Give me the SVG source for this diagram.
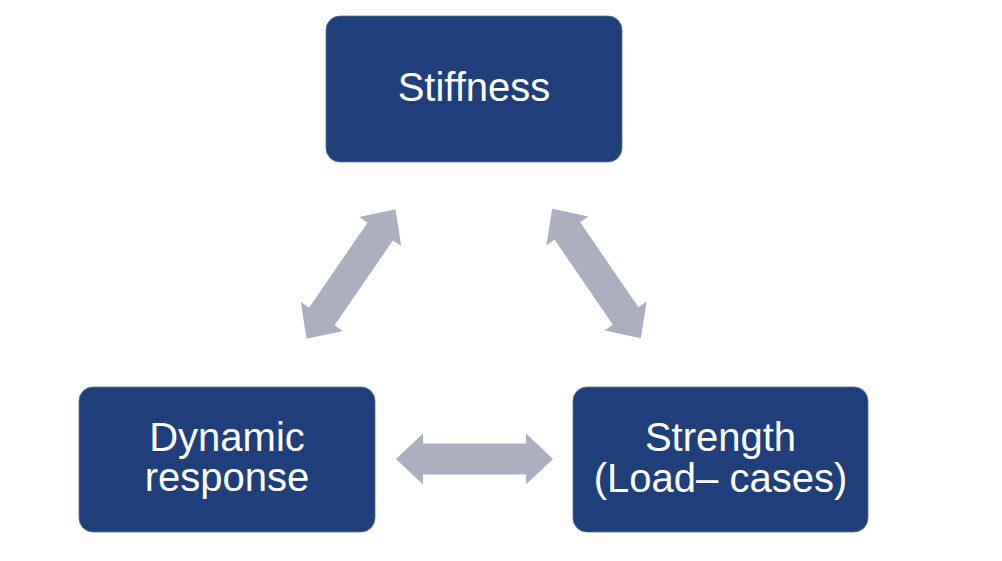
<svg xmlns="http://www.w3.org/2000/svg" xmlns:xlink="http://www.w3.org/1999/xlink" width="1002" height="561" viewBox="0 0 1002 561">
<style>
.box{fill:#1f3f7b;stroke:#5a6f9a;stroke-width:0.8}
.lbl{font-family:"Liberation Sans",Arial,sans-serif;font-size:40px;fill:#ffffff;text-anchor:middle}
.arr{fill:#abafbf}
</style>
<defs>
<path id="dbl" d="M -78.5 0 L -51.5 -25.5 L -51.5 -15.5 L 51.5 -15.5 L 51.5 -25.5 L 78.5 0 L 51.5 25.5 L 51.5 15.5 L -51.5 15.5 L -51.5 25.5 Z"/>
</defs>
<rect width="1002" height="561" fill="#ffffff"/>
<g id="connectors">
<use xlink:href="#dbl" href="#dbl" class="arr" transform="translate(351 274) rotate(-55.5)"/>
<use xlink:href="#dbl" href="#dbl" class="arr" transform="translate(596.5 273.5) rotate(55.6)"/>
<use xlink:href="#dbl" href="#dbl" class="arr" transform="translate(474.5 459)"/>
</g>
<g id="stiffness">
<rect class="box" x="326" y="16" width="296" height="146" rx="14"/>
<text class="lbl" x="474" y="101">Stiffness</text>
</g>
<g id="dynamic-response">
<rect class="box" x="79" y="387" width="296" height="145" rx="14"/>
<text class="lbl" x="227" y="451">Dynamic</text>
<text class="lbl" x="227" y="491">response</text>
</g>
<g id="strength">
<rect class="box" x="573" y="387" width="295" height="145" rx="14"/>
<text class="lbl" x="720.5" y="451">Strength</text>
<text class="lbl" x="720.5" y="492">(Load– cases)</text>
</g>
</svg>
